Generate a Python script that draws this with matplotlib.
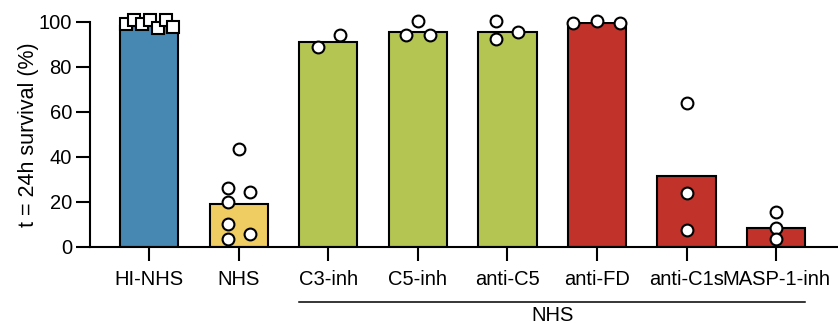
import matplotlib
matplotlib.use("Agg")
import matplotlib.pyplot as plt

plt.rcParams['font.family'] = ['Liberation Sans', 'DejaVu Sans']

# categories and bar heights (mean survival, %)
categories = ["HI-NHS", "NHS", "C3-inh", "C5-inh", "anti-C5", "anti-FD", "anti-C1s", "MASP-1-inh"]
bar_values = [98.2, 18.9, 91.1, 95.7, 95.7, 99.4, 31.3, 8.5]
bar_colors = ["#4788b3", "#f0cd63", "#b5c552", "#b5c552", "#b5c552", "#c0322a", "#c0322a", "#c0322a"]

# individual replicates per category
points = [
    [98.9, 100.9, 99.3, 100.9, 97.5, 100.9, 97.9],
    [43.5, 26.3, 24.3, 19.8, 10.0, 3.6, 5.5],
    [88.8, 94.1],
    [94.2, 100.4, 94.2],
    [100.4, 92.3, 95.7],
    [99.4, 100.4, 99.4],
    [64.0, 23.8, 7.4],
    [15.5, 8.5, 3.3],
]
# horizontal scatter of replicates around category centre
offsets = [
    [-0.26, -0.17, -0.08, 0.01, 0.10, 0.19, 0.27],
    [0.0, -0.12, 0.13, -0.12, -0.12, -0.12, 0.13],
    [-0.11, 0.13],
    [-0.13, 0.0, 0.13],
    [-0.13, -0.13, 0.12],
    [-0.27, 0.0, 0.26],
    [0.0, 0.0, 0.0],
    [0.0, 0.0, 0.0],
]

fig = plt.figure(figsize=(8.38, 3.24), dpi=100)
ax = fig.add_axes([0.1074, 0.2386, 0.8926, 0.6935])

x = list(range(len(categories)))
ax.bar(x, bar_values, width=0.65, color=bar_colors, edgecolor="black", linewidth=1.5, zorder=2)

for i, (vals, offs) in enumerate(zip(points, offsets)):
    xs = [i + o for o in offs]
    marker = "s" if i == 0 else "o"
    ax.plot(xs, vals, linestyle="none", marker=marker, markersize=8.5,
            markerfacecolor="white", markeredgecolor="black", markeredgewidth=1.5,
            clip_on=False, zorder=3)

ax.set_xlim(-0.66, 7.69)
ax.set_ylim(0, 100)
ax.set_yticks([0, 20, 40, 60, 80, 100])
ax.set_xticks(x)
ax.set_xticklabels(categories)
ax.set_ylabel("t = 24h survival (%)", fontsize=15.5, labelpad=0)

for side in ["top", "right"]:
    ax.spines[side].set_visible(False)
for side in ["left", "bottom"]:
    ax.spines[side].set_linewidth(1.5)
ax.tick_params(axis="both", labelsize=14.5, width=1.5, length=10)
ax.tick_params(axis="x", pad=7)
ax.tick_params(axis="y", pad=3)

# group bracket for NHS-based conditions
ax.plot([1.675, 7.325], [-24.5, -24.5], color="black", linewidth=1.1, clip_on=False)
ax.text(4.5, -30.5, "NHS", ha="center", va="center", fontsize=14.5)

fig.savefig("out.png", dpi=100)
